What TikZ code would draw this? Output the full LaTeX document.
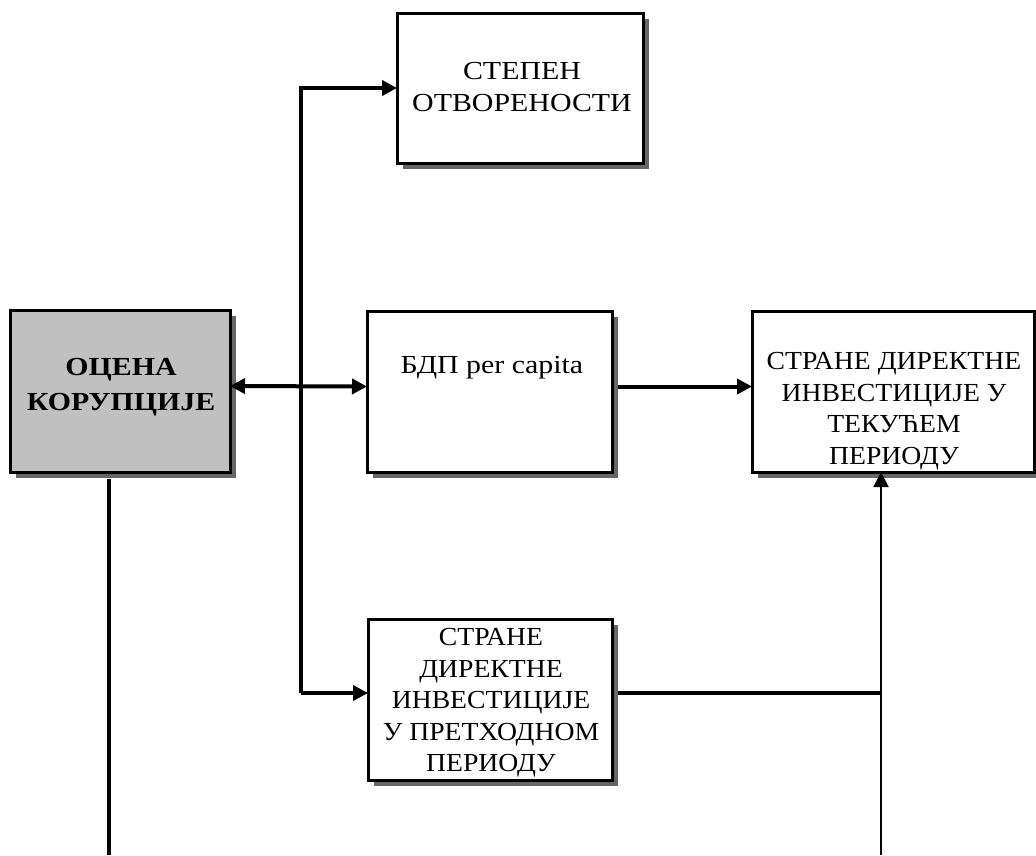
\documentclass[tikz,border=0pt]{standalone}
\usepackage{fontspec}
\setmainfont{Liberation Serif}[FakeStretch=1.15]
\newfontfamily\narrowfont{Liberation Serif}[FakeStretch=1.065]
\usetikzlibrary{arrows.meta,shadows}
\definecolor{boxgray}{HTML}{C0C0C0}
\definecolor{shadowgray}{HTML}{666666}
\tikzset{
  box/.style={draw=black, line width=3pt, fill=white, anchor=north west,
    inner sep=0pt, outer sep=0pt,
    drop shadow={shadow xshift=6pt, shadow yshift=-6pt, opacity=1, fill=shadowgray}},
  txt/.style={align=center, inner sep=0pt, font=\fontsize{26}{31.5}\selectfont},
  ntxt/.style={align=center, inner sep=0pt, font=\narrowfont\fontsize{26}{31.5}\selectfont},
  thk/.style={line width=4pt},
  thn/.style={line width=2pt},
  tip/.style={-{Triangle[length=15pt,width=15pt]}},
  twotip/.style={{Triangle[length=15pt,width=15pt]}-{Triangle[length=15pt,width=15pt]}},
}
\begin{document}
\begin{tikzpicture}[x=1pt,y=-1pt]
\useasboundingbox (0,0) rectangle (1036,855);
% boxes
\node[box, fill=boxgray, minimum width=220pt, minimum height=162pt] (oc) at (10,310) {};
\node[box, minimum width=246pt, minimum height=150pt] (st) at (397,13) {};
\node[box, minimum width=245pt, minimum height=161pt] (gdp) at (367,311) {};
\node[box, minimum width=282pt, minimum height=161pt] (cur) at (752,311) {};
\node[box, minimum width=244pt, minimum height=161pt] (prev) at (368,619) {};
% texts
\node[txt, font=\fontsize{26}{35}\selectfont\bfseries] (toc) at (121,387) {ОЦЕНА\\КОРУПЦИЈЕ};
\node[txt] (tst) at (522,87) {СТЕПЕН\\ОТВОРЕНОСТИ};
\node[txt] (tgdp) at (492,368) {БДП per capita};
\node[ntxt] (tcur) at (894,411) {СТРАНЕ ДИРЕКТНЕ\\ИНВЕСТИЦИЈЕ У\\ТЕКУЋЕМ\\ПЕРИОДУ};
\node[ntxt] (tprev) at (491,703) {СТРАНЕ\\ДИРЕКТНЕ\\ИНВЕСТИЦИЈЕ\\У ПРЕТХОДНОМ\\ПЕРИОДУ};
% coordinates
\coordinate (ttop) at (301,88);
\coordinate (tbot) at (301,693);
\coordinate (rjoin) at (882,693);
\coordinate (rbot) at (881,855);
\coordinate (lbot) at (108.5,855);
% connectors
\draw[thk, tip] (tbot) -- (ttop) -- (st.west);
\draw[thk, tip] (tbot) -- (prev.west |- tbot);
\draw[thk, twotip] ([yshift=5pt]oc.east) -- ([yshift=5pt]gdp.west);
\draw[thk, tip] ([xshift=6pt,yshift=5pt]gdp.east) -- ([yshift=5pt]cur.west);
\draw[thk] ([xshift=6pt]prev.east |- tbot) -- (rjoin);
\draw[thn, tip] (rbot) -- (rbot |- cur.south);
\draw[thk] ([yshift=-7pt]oc.south -| lbot) -- (lbot);
\end{tikzpicture}
\end{document}
